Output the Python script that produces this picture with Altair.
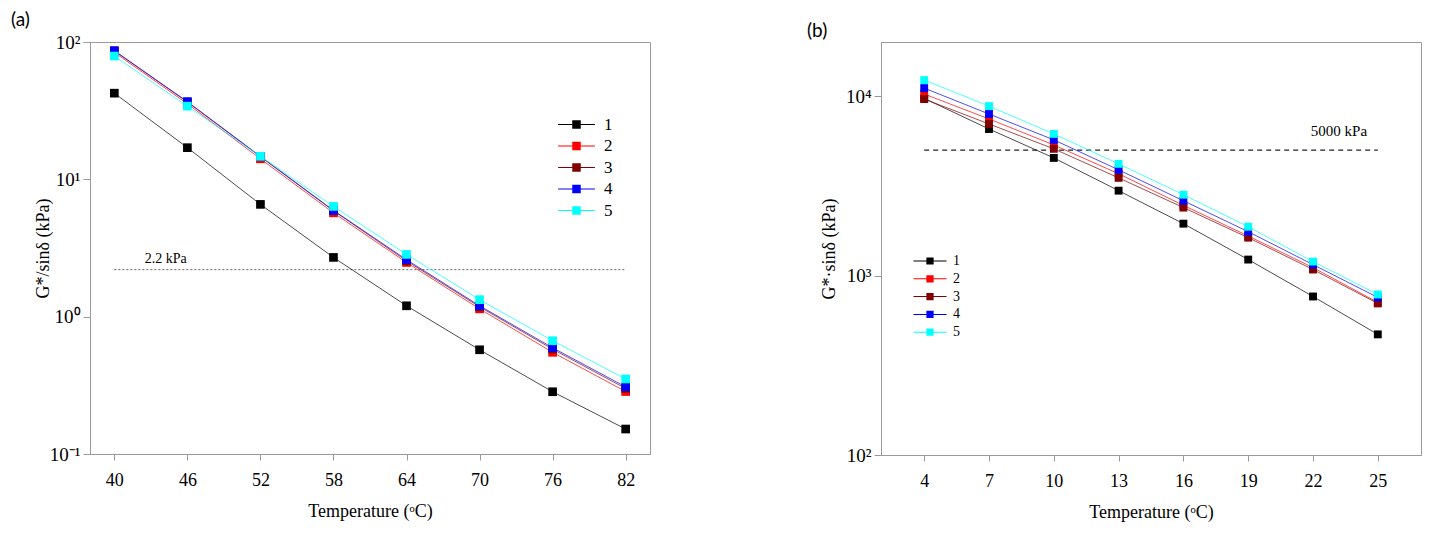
import altair as alt
import pandas as pd

SERIF = "Liberation Serif"

series_names = ["1", "2", "3", "4", "5"]
series_colors = ["#000000", "#ff0000", "#800000", "#0000ff", "#00ffff"]

# Panel (a): G*/sin(delta) vs temperature
temps_a = [40, 46, 52, 58, 64, 70, 76, 82]
a_s1 = [42.4, 17.0, 6.57, 2.70, 1.20, 0.574, 0.284, 0.152]
a_s2 = [84.0, 35.5, 14.1, 5.70, 2.48, 1.14, 0.550, 0.285]
a_s3 = [86.0, 36.5, 14.6, 5.90, 2.55, 1.18, 0.580, 0.300]
a_s4 = [86.5, 36.8, 14.7, 5.94, 2.60, 1.20, 0.594, 0.308]
a_s5 = [79.0, 34.1, 14.7, 6.35, 2.84, 1.33, 0.668, 0.352]
a_xticks = [40, 43, 46, 49, 52, 55, 58, 61, 64, 67, 70, 73, 76, 79, 82]
a_yticks = [0.1, 1, 10, 100]
a_limit_x = [40, 82]
a_limit_value = 2.2
a_limit_label = "2.2 kPa"
a_limit_label_x = 42.5

# Panel (b): G*·sin(delta) vs temperature
temps_b = [4, 7, 10, 13, 16, 19, 22, 25]
b_s1 = [9700, 6550, 4520, 2970, 1945, 1227, 764, 470]
b_s2 = [10260, 7450, 5340, 3690, 2460, 1660, 1107, 708]
b_s3 = [9620, 6990, 5080, 3500, 2390, 1625, 1080, 699]
b_s4 = [11070, 7940, 5700, 3880, 2610, 1755, 1150, 755]
b_s5 = [12270, 8790, 6150, 4190, 2820, 1870, 1196, 784]
b_xticks = [4, 7, 10, 13, 16, 19, 22, 25]
b_yticks = [100, 1000, 10000]
b_limit_x = [4, 25]
b_limit_value = 5000
b_limit_label = "5000 kPa"
b_limit_label_x = 21.9


def long_df(temps, lists):
    rows = []
    for name, vals in zip(series_names, lists):
        for t, v in zip(temps, vals):
            rows.append({"T": t, "G": v, "series": name})
    return pd.DataFrame(rows)


df_a = long_df(temps_a, [a_s1, a_s2, a_s3, a_s4, a_s5])
df_b = long_df(temps_b, [b_s1, b_s2, b_s3, b_s4, b_s5])

lim_a = pd.DataFrame({"T": [a_limit_x[0]], "T2": [a_limit_x[1]], "G": [a_limit_value]})
lim_b = pd.DataFrame({"T": [b_limit_x[0]], "T2": [b_limit_x[1]], "G": [b_limit_value]})
lab_a = pd.DataFrame({"T": [a_limit_label_x], "G": [a_limit_value], "label": [a_limit_label]})
lab_b = pd.DataFrame({"T": [b_limit_label_x], "G": [b_limit_value], "label": [b_limit_label]})

PATH_A = "M-2.6,-0.07L2.6,-0.07L2.6,0.07L-2.6,0.07ZM-0.6,-0.6L0.6,-0.6L0.6,0.6L-0.6,0.6Z"
PATH_B = "M-2.7,-0.08L2.7,-0.08L2.7,0.08L-2.7,0.08ZM-0.59,-0.59L0.59,-0.59L0.59,0.59L-0.59,0.59Z"

W_A, H_A = 560, 412
W_B, H_B = 540, 413


def panel(df, lim, lab, xdomain, xticks, xlabel_expr, xtick_size, ydomain, yticks,
          ylabel_expr, ytitle, ytitle_x, width, height, legend, point_size,
          rule_dash, rule_color, rule_width, lab_size, lab_dy, title):
    xscale = alt.Scale(domain=xdomain, nice=False, zero=False)
    yscale = alt.Scale(type="log", domain=ydomain, nice=False)
    cscale = alt.Scale(domain=series_names, range=series_colors)
    xaxis = alt.Axis(values=xticks, labelExpr=xlabel_expr, tickSize=xtick_size,
                     title="Temperature (ᵒC)", titleY=57, titleBaseline="middle",
                     labelPadding=11, labelFlush=False, labelOverlap=False)
    yaxis = alt.Axis(values=yticks, labelExpr=ylabel_expr, tickSize=7, labelPadding=3,
                     labelFontSize=19,
                     title=ytitle, titleX=ytitle_x, titleY=height / 2, titleAngle=270,
                     titleBaseline="middle", titleAlign="center",
                     labelFlush=False, labelOverlap=False)
    base = alt.Chart(df)
    lines = base.mark_line(strokeWidth=1, opacity=0.7).encode(
        x=alt.X("T:Q", scale=xscale, axis=xaxis),
        y=alt.Y("G:Q", scale=yscale, axis=yaxis),
        color=alt.Color("series:N", scale=cscale, legend=legend),
        order=alt.Order("T:Q"),
    )
    points = base.mark_point(shape="square", filled=True, size=point_size, opacity=1).encode(
        x=alt.X("T:Q", scale=xscale),
        y=alt.Y("G:Q", scale=yscale),
        color=alt.Color("series:N", scale=cscale, legend=legend),
    )
    rule = alt.Chart(lim).mark_rule(strokeDash=rule_dash, color=rule_color,
                                    strokeWidth=rule_width).encode(
        x=alt.X("T:Q", scale=xscale), x2="T2:Q", y=alt.Y("G:Q", scale=yscale))
    text = alt.Chart(lab).mark_text(align="left", baseline="bottom", dy=lab_dy,
                                    font=SERIF, fontSize=lab_size, color="#000").encode(
        x=alt.X("T:Q", scale=xscale), y=alt.Y("G:Q", scale=yscale), text="label:N")
    return alt.layer(rule, text, lines, points).properties(
        width=width, height=height, title=title)


def make_legend(x, y, path, size, font_size, offset, row_pad):
    return alt.Legend(orient="none", legendX=x, legendY=y, title=None,
                      symbolType=path, symbolSize=size, symbolStrokeWidth=0,
                      symbolFillColor="black", symbolOpacity=1, labelFont=SERIF,
                      labelFontSize=font_size, labelOffset=offset,
                      rowPadding=row_pad, padding=0)


legend_a = make_legend(478, 74, PATH_A, 200, 17, 19, 3.5)
legend_b = make_legend(42, 212, PATH_B, 150, 14, 16, 3.8)

title_a = alt.TitleParams("(a)", anchor="start", frame="group", dx=-79, offset=0, dy=15.5,
                          baseline="bottom", font="Lato", fontSize=19,
                          fontWeight="normal", color="#000", orient="top")
title_b = alt.TitleParams("(b)", anchor="start", frame="group", dx=-74, offset=0, dy=17.5,
                          baseline="bottom", font="Lato", fontSize=19,
                          fontWeight="normal", color="#000", orient="top")

ylab_a = ("datum.value < 0.5 ? '10⁻¹' : datum.value < 5 ? '10⁰' : "
          "datum.value < 50 ? '10¹' : '10²'")
ylab_b = "datum.value < 500 ? '10²' : datum.value < 5000 ? '10³' : '10⁴'"

pa = panel(df_a, lim_a, lab_a, [38, 84], a_xticks,
           "datum.value % 6 == 4 ? datum.label : ''",
           {"condition": {"test": "datum.value % 6 == 4", "value": 6}, "value": 4},
           [0.1, 100], a_yticks, ylab_a, "G*/sinδ (kPa)", -47, W_A, H_A, legend_a, 75,
           [2, 2], "#666666", 1, 14, -4, title_a)
pb = panel(df_b, lim_b, lab_b, [2, 27], b_xticks, "datum.label", 6,
           [100, 20000], b_yticks, ylab_b, "G*·sinδ (kPa)", -52, W_B, H_B, legend_b, 62,
           [5, 4], "#222222", 1.2, 15, -11, title_b)

chart = alt.hconcat(pa, pb, spacing=231, bounds="flush").resolve_scale(
    x="independent", y="independent", color="independent"
).properties(
    padding={"left": 2, "top": 2, "right": 0, "bottom": 0}
).configure_view(
    stroke="#9a9a9a", strokeWidth=1
).configure_axis(
    domainColor="#9a9a9a", tickColor="#9a9a9a", labelColor="#000", titleColor="#000",
    labelFont=SERIF, titleFont=SERIF, labelFontSize=18, titleFontSize=18,
    titleFontWeight="normal", grid=False, domainWidth=1, tickWidth=1
)

chart.save("out.html", embed_options={"renderer": "svg", "actions": False})
